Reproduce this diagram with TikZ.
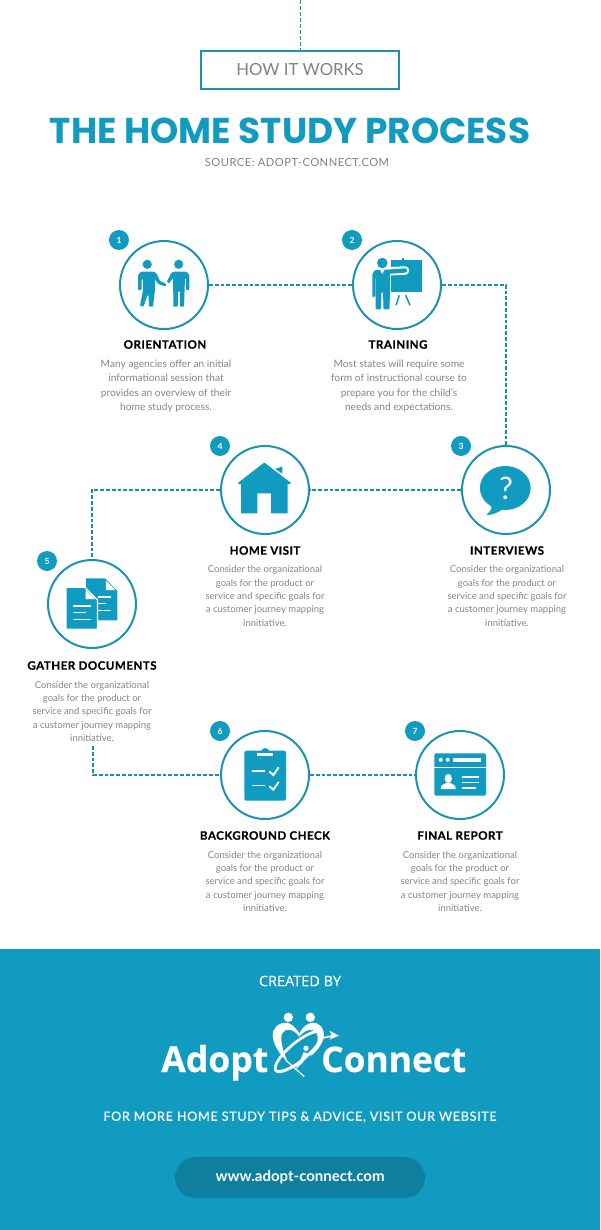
\documentclass[tikz,border=0pt]{standalone}
\usepackage{fontspec}
\setmainfont{Lato}
\newfontfamily\titlefont{Poppins}
\newfontfamily\headfont[LetterSpace=4,BoldFeatures={FakeBold=0.5}]{Lato}
\newfontfamily\logofont[FakeBold=0.2]{Open Sans}
\newfontfamily\srcfont[LetterSpace=4]{Lato}
\newfontfamily\morefont[LetterSpace=5,FakeBold=0.1]{Lato}
\definecolor{brand}{HTML}{129BC0}
\definecolor{ring}{HTML}{1C93B0}
\definecolor{dashc}{HTML}{1A8FAA}
\definecolor{pillc}{HTML}{0F7F9F}
\definecolor{bodyc}{HTML}{858585}
\definecolor{grayc}{HTML}{808285}
\tikzset{
  x=1pt,y=-1pt,
  ringnode/.style={circle,draw=ring,line width=2pt,minimum size=88pt,inner sep=0pt},
  badge/.style={circle,fill=brand,minimum size=20pt,inner sep=0pt,text=white,font=\fontsize{8.5}{10}\selectfont\bfseries},
  headtext/.style={font=\fontsize{11.6}{14}\headfont\bfseries,text=black,inner sep=0pt},
  bodya/.style={align=center,text=bodyc,inner sep=0pt,font=\fontsize{10.2}{14.4}\selectfont},
  bodyb/.style={align=center,text=bodyc,inner sep=0pt,font=\fontsize{9.5}{13.3}\selectfont},
  linkline/.style={draw=dashc,line width=1.7pt,dash pattern=on 3.8pt off 2pt},
  icon/.style={fill=brand,draw=none},
  cutline/.style={draw=white,line width=1.6pt},
}
\begin{document}
\begin{tikzpicture}
\useasboundingbox (0,0) rectangle (600,1230);
\fill[white] (0,0) rectangle (600,1230);
% header
\node[draw=ring,line width=2pt,minimum width=198pt,minimum height=38pt,inner sep=0pt,text=grayc,font=\fontsize{16.7}{20}\selectfont] (hiw) at (300,70) {HOW IT WORKS};
\coordinate (topend) at (300,0);
\draw[dashc,line width=1pt,dash pattern=on 4pt off 2pt] (topend) -- (hiw.north);
\node[text=brand,inner sep=0pt,font=\fontsize{35.9}{40}\titlefont\bfseries] (title) at (290,131) {THE HOME STUDY PROCESS};
\node[text=grayc,inner sep=0pt,font=\fontsize{11.2}{14}\srcfont] (source) at (297,162) {SOURCE: ADOPT-CONNECT.COM};
% rings
\node[ringnode] (n1) at (164,285) {};
\node[ringnode] (n2) at (397,285) {};
\node[ringnode] (n3) at (506,490) {};
\node[ringnode] (n4) at (265,490) {};
\node[ringnode] (n5) at (92,604) {};
\node[ringnode] (n6) at (265,775) {};
\node[ringnode] (n7) at (460,775) {};
% badges
\node[badge] (b1) at (119,240) {1};
\node[badge] (b2) at (352,240) {2};
\node[badge] (b3) at (461,446) {3};
\node[badge] (b4) at (220,446) {4};
\node[badge] (b5) at (47,561) {5};
\node[badge] (b6) at (220,731) {6};
\node[badge] (b7) at (415,731) {7};
% texts
\node[headtext] (h1) at (165,344.5) {ORIENTATION};
\node[headtext] (h2) at (398,344.5) {TRAINING};
\node[headtext] (h3) at (507,550.5) {INTERVIEWS};
\node[headtext] (h4) at (265,550.5) {HOME VISIT};
\node[headtext] (h5) at (92,665.5) {GATHER DOCUMENTS};
\node[headtext] (h6) at (265,835.5) {BACKGROUND CHECK};
\node[headtext] (h7) at (460,835.5) {FINAL REPORT};
\node[bodya] (t1) at (166,386) {Many agencies offer an initial\\informational session that\\provides an overview of their\\home study process.};
\node[bodya] (t2) at (399,386) {Most states will require some\\form of instructional course to\\prepare you for the child's\\needs and expectations.};
\node[bodyb] (t3) at (507,596) {Consider the organizational\\goals for the product or\\service and specific goals for\\a customer journey mapping\\innitiative.};
\node[bodyb] (t4) at (265,596) {Consider the organizational\\goals for the product or\\service and specific goals for\\a customer journey mapping\\innitiative.};
\node[bodyb] (t5) at (92,711.5) {Consider the organizational\\goals for the product or\\service and specific goals for\\a customer journey mapping\\innitiative.};
\node[bodyb] (t6) at (265,881.5) {Consider the organizational\\goals for the product or\\service and specific goals for\\a customer journey mapping\\innitiative.};
\node[bodyb] (t7) at (460,881.5) {Consider the organizational\\goals for the product or\\service and specific goals for\\a customer journey mapping\\innitiative.};
% connectors
\coordinate (c5) at (93,746);
\draw[linkline] (n1.east) -- (n2.west);
\draw[linkline] (n2.east) -| (n3.north);
\draw[linkline] (n3.west) -- (n4.east);
\draw[linkline] (n4.west) -| (n5.north);
\draw[linkline] (c5) |- (n6.west);
\draw[linkline] (n6.east) -- (n7.west);
% icon 1 : two people
\fill[icon] (147.2,264.3) circle (4.6) (178.7,264.3) circle (4.6);
\fill[icon,rounded corners=0.9pt] (138,275) -- (141,271.7) -- (154,271.7) -- (156.5,273.5) -- (160,281) -- (166.3,284) -- (165.5,286.5) -- (158,284) -- (155,279) -- (155,290) -- (153,306.7) -- (149,306.7) -- (148.5,295) -- (147.5,295) -- (143.5,306.7) -- (140,306) -- (143,290) -- (143,279) -- (141.5,279) -- (141.5,290) -- (138,290) -- cycle;
\fill[icon,rounded corners=0.9pt] (189.3,275) -- (186.5,271.7) -- (173.5,271.7) -- (171,273.5) -- (166.8,281.5) -- (168.8,283.5) -- (173,278) -- (173.5,306.7) -- (177.7,306.7) -- (178.2,291) -- (179.8,291) -- (180,306.7) -- (184,306.7) -- (185,278) -- (186,278) -- (186,290) -- (189.3,290) -- cycle;
% icon 2 : trainer
\fill[icon] (391,260.3) rectangle (421.7,292);
\fill[icon] (401.8,257.8) rectangle (403.6,261);
\draw[brand,line width=1.5pt] (399.3,295.3) -- (396,305.3) (405.7,295.3) -- (410,305.3);
\draw[white,line width=8.5pt,line cap=round] (385,271.5) -- (405,270.5);
\draw[brand,line width=4.3pt,line cap=round] (385,272) -- (405,270.5);
\fill[icon] (382.3,263) circle (5.3);
\fill[icon,rounded corners=0.9pt] (372.3,274) -- (375,270) -- (390,270) -- (390,292) -- (389.5,309.3) -- (383.5,309.3) -- (383,292) -- (381.5,292) -- (381,309.3) -- (375.5,309.3) -- (375.5,278) -- (375,278) -- (375,297) -- (372.3,297) -- cycle;
\fill[white] (380,269.8) -- (384.5,269.8) -- (382.3,274) -- cycle;
% icon 3 : bubble
\fill[icon] (505.3,488) ellipse [x radius=25.4,y radius=22];
\fill[icon] (492,502) -- (491,510) -- (486.5,515) .. controls (493,515) and (498,512.5) .. (503,509) -- cycle;
\node[text=white,inner sep=0pt,font=\fontsize{31}{32}\selectfont] (qm) at (506,488) {?};
% icon 4 : house
\fill[icon] (275,469) -- (282.3,466.5) -- (282.3,473.5) -- cycle;
\fill[icon] (241,480) -- (241,513.3) -- (257.3,513.3) -- (257.3,493.3) -- (271,493.3) -- (271,513.3) -- (287.7,513.3) -- (287.7,480) -- cycle;
\fill[icon,line join=round] (264.3,462.5) -- (291,483) -- (289,484.5) -- (264.3,468.5) -- (240,484.5) -- (237.8,483) -- cycle;
\fill[icon] (264.3,466) -- (287.7,482) -- (241,482) -- cycle;
% icon 5 : documents
\fill[icon] (86,578.3) -- (105,578.3) -- (117.3,591) -- (117.3,620.3) -- (86,620.3) -- cycle;
\fill[white] (105.8,580.5) -- (105.8,590) -- (115.3,590) -- cycle;
\draw[cutline] (98,596.7) -- (110.7,596.7) (98,603.3) -- (106,603.3) (98,610.3) -- (110.7,610.3);
\fill[icon,draw=white,line width=1.2pt] (66,587.3) -- (85,587.3) -- (97.5,600) -- (97.5,629.3) -- (66,629.3) -- cycle;
\fill[white] (85.6,589.5) -- (85.6,599) -- (95,599) -- cycle;
\draw[cutline] (73.3,605.7) -- (90.7,605.7) (73.3,612.3) -- (85.7,612.3) (73.3,619.3) -- (90.7,619.3);
% icon 6 : clipboard
\fill[icon,rounded corners=1.5pt] (244.3,750.7) rectangle (286,800.7);
\fill[icon] (261,751.5) .. controls (262,747) and (268.5,747) .. (269.5,751.5) -- cycle;
\fill[white] (257.3,752.8) rectangle (273.3,756);
\draw[cutline] (252.3,770.7) -- (265,770.7) (252.3,785.3) -- (265,785.3);
\draw[cutline,line width=1.9pt] (269.3,771.5) -- (273.3,775) -- (278.7,767.3) (269.3,786.2) -- (273.3,789.7) -- (278.7,782);
% icon 7 : report
\fill[icon,rounded corners=1.5pt] (434.3,753.3) rectangle (486,795.7);
\draw[cutline] (434.3,767.3) -- (486,767.3);
\fill[white] (440.7,759.8) circle (2) (447.7,759.8) circle (2);
\fill[white] (453.3,757.7) rectangle (480.7,762);
\fill[white] (448.3,778.5) ellipse [x radius=3.6,y radius=4.6];
\fill[white] (440.7,789) -- (441.5,785.5) -- (446,783) -- (450.5,783) -- (455,785.5) -- (455.7,789) -- cycle;
\draw[cutline] (461.7,776.7) -- (479.3,776.7) (461.7,782.3) -- (479.3,782.3) (461.7,787.7) -- (476,787.7);
% footer
\fill[brand] (0,949) rectangle (600,1230);
\node[text=white,inner sep=0pt,font=\fontsize{14.5}{16}\logofont] (created) at (300,981) {CREATED BY};
\node[text=white,inner sep=0pt,anchor=base west,font=\fontsize{35.6}{40}\logofont\selectfont\bfseries] (adopt) at (161,1072) {Adopt};
\node[text=white,inner sep=0pt,anchor=base west,font=\fontsize{35.3}{40}\logofont\selectfont\bfseries] (connect) at (321,1072) {Connect};
\begin{scope}[shift={(265,1005)},x=0.3333pt,y=-0.3333pt]
\fill[white] (70,37) circle (14) (136,37) circle (14);
% left lobe
\fill[white] (103,85) .. controls (90,66) and (80,56) .. (66,53) .. controls (40,52) and (22,70) .. (23,92) .. controls (25,120) and (45,150) .. (68,170) .. controls (55,140) and (43,105) .. (52,85) .. controls (60,68) and (85,70) .. (103,95) -- cycle;
% right lobe
\fill[white] (103,85) .. controls (112,68) and (125,55) .. (142,53) .. controls (165,52) and (178,72) .. (177,92) .. controls (175,112) and (160,135) .. (135,155) .. controls (150,130) and (165,105) .. (155,85) .. controls (145,68) and (120,72) .. (103,95) -- cycle;
% arrow
\draw[white,line width=1.6pt] (168,100) -- (205,92);
\fill[white] (193,77) -- (222,92) -- (193,104) -- (201,92) -- cycle;
% orbit
\draw[white,line width=2.7pt,rotate around={40:(100,140)}] (100,140) ellipse [x radius=88,y radius=27];
\fill[white,rotate around={40:(100,140)}] (12,140) .. controls (25,165) and (60,170) .. (90,168) .. controls (60,160) and (30,155) .. (12,140) -- cycle;
\draw[white,line width=1.2pt] (62,165) -- (118,215);
% child
\fill[white] (123,130) circle (8);
\fill[white] (115,142) .. controls (122,140) and (130,145) .. (128,150) .. controls (118,170) and (105,182) .. (88,195) .. controls (100,178) and (110,160) .. (115,142) -- cycle;
\end{scope}
\node[text=white,inner sep=0pt,font=\fontsize{12.7}{16}\morefont] (more) at (300,1117) {FOR MORE HOME STUDY TIPS \& ADVICE, VISIT OUR WEBSITE};
\node[fill=pillc,rounded corners=20.5pt,minimum width=250pt,minimum height=41pt,inner sep=0pt,text=white,font=\fontsize{15}{16}\selectfont\bfseries] (pill) at (300,1177.5) {www.adopt-connect.com};
\end{tikzpicture}
\end{document}
